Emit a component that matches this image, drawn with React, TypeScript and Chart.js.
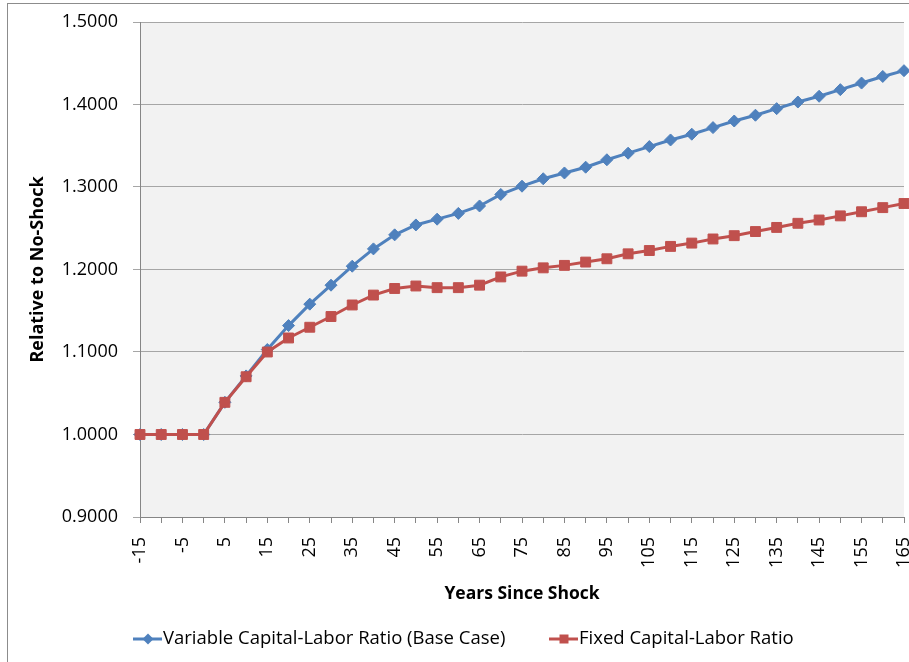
import React, { useEffect, useRef } from "react";
import { Chart, registerables } from "chart.js";

Chart.register(...registerables);

const years = [
  -15, -10, -5, 0, 5, 10, 15, 20, 25, 30, 35, 40, 45, 50, 55, 60, 65, 70, 75,
  80, 85, 90, 95, 100, 105, 110, 115, 120, 125, 130, 135, 140, 145, 150, 155,
  160, 165,
];

const variableKL = [
  1.0, 1.0, 1.0, 1.0, 1.039, 1.071, 1.103, 1.132, 1.158, 1.181, 1.204, 1.225,
  1.242, 1.254, 1.261, 1.268, 1.277, 1.291, 1.301, 1.31, 1.317, 1.324, 1.333,
  1.341, 1.349, 1.357, 1.364, 1.372, 1.38, 1.387, 1.395, 1.403, 1.41, 1.418,
  1.426, 1.434, 1.441,
];

const fixedKL = [
  1.0, 1.0, 1.0, 1.0, 1.039, 1.07, 1.1, 1.117, 1.13, 1.143, 1.157, 1.169,
  1.177, 1.18, 1.178, 1.178, 1.181, 1.191, 1.198, 1.202, 1.205, 1.209, 1.213,
  1.219, 1.223, 1.228, 1.232, 1.237, 1.241, 1.246, 1.251, 1.256, 1.26, 1.265,
  1.27, 1.275, 1.28,
];

const seriesLabels = [
  "Variable Capital-Labor Ratio (Base Case)",
  "Fixed Capital-Labor Ratio",
];

const FONT = "'Open Sans', Lato, sans-serif";
const BLUE = "#4F81BD";
const RED = "#C0504D";

export default function App() {
  const ref = useRef<HTMLCanvasElement>(null);

  useEffect(() => {
    const canvas = ref.current;
    if (!canvas) return;

    const bgPlugin = {
      id: "plotBg",
      beforeDraw(chart: any) {
        const { ctx, chartArea: a } = chart;
        ctx.save();
        ctx.fillStyle = "#F2F2F2";
        ctx.fillRect(a.left, a.top, a.right - a.left, a.bottom - a.top);
        ctx.restore();
      },
    };

    const framePlugin = {
      id: "frame",
      afterDraw(chart: any) {
        const { ctx } = chart;
        ctx.save();
        ctx.strokeStyle = "#8C8C8C";
        ctx.lineWidth = 1;
        ctx.strokeRect(7.5, 3.5, chart.width + 100, chart.height + 100);
        ctx.restore();
      },
    };

    const legendStarts = [133, 549];
    const legendPlugin = {
      id: "customLegend",
      afterDraw(chart: any) {
        const { ctx } = chart;
        const y = 639;
        ctx.save();
        chart.data.datasets.forEach((ds: any, i: number) => {
          const sx = legendStarts[i];
          ctx.strokeStyle = ds.borderColor;
          ctx.lineWidth = 3;
          ctx.beginPath();
          ctx.moveTo(sx, y);
          ctx.lineTo(sx + 29, y);
          ctx.stroke();
          ctx.fillStyle = ds.backgroundColor;
          const cx = sx + 15;
          ctx.beginPath();
          if (ds.pointStyle === "rectRot") {
            const r = 5.5;
            ctx.moveTo(cx - r, y);
            ctx.lineTo(cx, y - r);
            ctx.lineTo(cx + r, y);
            ctx.lineTo(cx, y + r);
            ctx.closePath();
          } else {
            ctx.rect(cx - 4.5, y - 4.5, 9, 9);
          }
          ctx.fill();
          ctx.fillStyle = "#000000";
          ctx.font = `18.5px ${FONT}`;
          ctx.textBaseline = "middle";
          ctx.textAlign = "left";
          ctx.fillText(ds.label, sx + 30, y);
        });
        ctx.restore();
      },
    };

    const chart = new Chart(canvas, {
      type: "line",
      data: {
        labels: years.map(String),
        datasets: [
          {
            label: seriesLabels[0],
            data: variableKL,
            borderColor: BLUE,
            backgroundColor: BLUE,
            pointBackgroundColor: BLUE,
            pointBorderColor: BLUE,
            pointBorderWidth: 1,
            pointStyle: "rectRot",
            pointRadius: 6,
            borderWidth: 3,
            tension: 0,
            order: 1,
          },
          {
            label: seriesLabels[1],
            data: fixedKL,
            borderColor: RED,
            backgroundColor: RED,
            pointBackgroundColor: RED,
            pointBorderColor: RED,
            pointBorderWidth: 1,
            pointStyle: "rect",
            pointRadius: 7,
            borderWidth: 3,
            tension: 0,
            order: 0,
          },
        ],
      },
      options: {
        animation: false,
        responsive: false,
        events: [],
        layout: { padding: { top: 22, right: 31, bottom: 50, left: 0 } },
        plugins: {
          legend: { display: false },
          tooltip: { enabled: false },
        },
        scales: {
          x: {
            type: "category",
            offset: false,
            grid: {
              drawOnChartArea: false,
              drawTicks: true,
              tickLength: 6,
              color: "#868686",
            },
            border: { color: "#868686" },
            ticks: {
              autoSkip: false,
              maxRotation: 90,
              minRotation: 90,
              padding: 14,
              color: "#000000",
              font: { family: FONT, size: 18 },
              callback: (_v: any, i: number) =>
                i % 2 === 0 ? String(years[i]) : "",
            },
            title: {
              display: true,
              text: "Years Since Shock",
              color: "#000000",
              font: { family: FONT, size: 17.5, weight: "bold" },
              padding: { top: 0, bottom: 7 },
            },
            afterFit: (s: any) => {
              s.height = 95;
              s.paddingLeft = 0;
              s.paddingRight = 0;
            },
          },
          y: {
            min: 0.9,
            max: 1.5,
            ticks: {
              stepSize: 0.1,
              padding: 15,
              color: "#000000",
              font: { family: FONT, size: 18 },
              callback: (v: any) => Number(v).toFixed(4),
            },
            grid: { color: "#A6A6A6", tickLength: 7 },
            border: { color: "#868686" },
            title: {
              display: true,
              text: "Relative to No-Shock",
              color: "#000000",
              font: { family: FONT, size: 18, weight: "bold" },
              padding: { top: 27, bottom: 0 },
            },
            afterFit: (s: any) => {
              s.width = 140;
              s.paddingTop = 0;
              s.paddingBottom = 0;
            },
          },
        },
      },
      plugins: [bgPlugin, framePlugin, legendPlugin],
    } as any);

    return () => chart.destroy();
  }, []);

  return (
    <div
      style={{
        position: "fixed",
        left: 0,
        top: 0,
        width: 909,
        height: 662,
        overflow: "hidden",
        background: "#ffffff",
      }}
    >
      <canvas ref={ref} width={935} height={662} style={{ display: "block" }} />
    </div>
  );
}
